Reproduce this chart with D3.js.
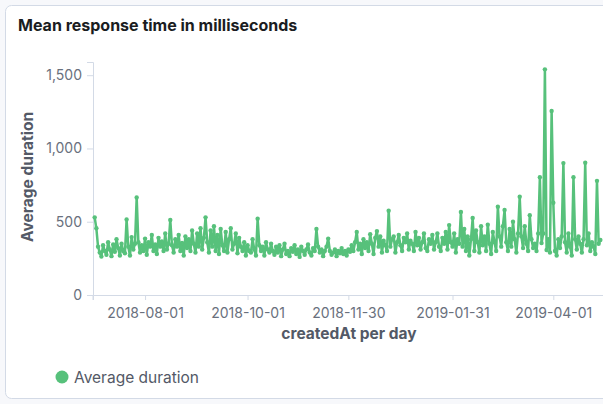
<!DOCTYPE html>
<html>
<head>
<meta charset="utf-8">
<script src="https://cdn.jsdelivr.net/npm/d3@7"></script>
<style>
  html, body { margin: 0; padding: 0; background: #f7f8fb; }
  body { width: 603px; height: 404px; overflow: hidden; font-family: Inter, "Noto Sans", sans-serif; }
  svg { display: block; }
</style>
</head>
<body>
<svg id="chart" width="603" height="404"></svg>
<script>
// Daily mean response time (ms), one value per day starting at firstDay
const firstDay = "2018-07-02";
const avgDuration = [
  530, 455, 330, 290, 262, 340, 300,
  275, 360, 310, 265, 345, 295, 380,
  320, 270, 350, 300, 285, 515, 330,
  270, 395, 310, 350, 665, 360, 290,
  340, 300, 385, 275, 360, 330, 410,
  300, 345, 280, 390, 330, 365, 300,
  420, 310, 350, 512, 340, 290, 380,
  330, 410, 300, 355, 270, 400, 320,
  380, 300, 440, 350, 290, 420, 330,
  455, 310, 390, 530, 360, 290, 440,
  330, 470, 300, 410, 280, 450, 340,
  300, 430, 290, 380, 455, 310, 350,
  420, 285, 390, 330, 300, 360, 270,
  340, 300, 290, 380, 310, 270, 520,
  340, 300, 330, 270, 360, 310, 290,
  350, 300, 275, 330, 290, 340, 265,
  310, 350, 280, 300, 265, 320, 295,
  340, 280, 310, 260, 330, 300, 275,
  310, 345, 290, 270, 320, 300, 450,
  330, 290, 310, 265, 300, 330, 385,
  300, 275, 290, 310, 265, 300, 285,
  320, 280, 300, 270, 310, 295, 340,
  300, 360, 430, 310, 350, 280, 380,
  320, 360, 300, 415, 350, 280, 390,
  436, 330, 400, 290, 370, 340, 300,
  575, 330, 380, 400, 290, 360, 410,
  340, 300, 390, 360, 420, 310, 370,
  350, 300, 430, 340, 390, 310, 360,
  420, 320, 300, 380, 350, 410, 310,
  360, 420, 330, 300, 390, 350, 430,
  310, 477, 360, 330, 420, 290, 380,
  350, 566, 330, 450, 300, 400, 270,
  380, 525, 300, 440, 360, 290, 470,
  340, 400, 300, 480, 350, 280, 430,
  360, 300, 602, 400, 330, 470, 580,
  360, 300, 450, 330, 500, 380, 290,
  420, 670, 400, 320, 470, 350, 300,
  545, 380, 320, 350, 300, 420, 804,
  354, 420, 1540, 307, 380, 290, 1256,
  630, 300, 270, 380, 320, 400, 900,
  360, 290, 420, 330, 270, 804, 380,
  310, 400, 350, 290, 380, 902, 340,
  420, 300, 360, 330, 280, 779, 350,
  375
];
const xTickLabels = ["2018-08-01", "2018-10-01", "2018-11-30", "2019-01-31", "2019-04-01"];
const yTickValues = [0, 500, 1000, 1500];
const xDomain = ["2018-07-01", "2019-05-01"];
const yMax = 1590;

const parse = d3.utcParse("%Y-%m-%d");
const start = parse(firstDay);
const data = avgDuration.map((v, i) => ({ date: d3.utcDay.offset(start, i), value: v }));

const svg = d3.select("#chart");
const green = "#57c17b";
const font = "Inter, 'Noto Sans', sans-serif";

// panel
svg.append("rect")
  .attr("x", 5.5).attr("y", 5.5).attr("width", 620).attr("height", 393)
  .attr("rx", 6).attr("fill", "#fff").attr("stroke", "#d3dae6");

svg.append("text")
  .attr("x", 18).attr("y", 31)
  .attr("font-size", 16).attr("font-weight", 700).attr("fill", "#1a1c21")
  .text("Mean response time in milliseconds");

const x = d3.scaleUtc().domain(xDomain.map(parse)).range([93, 603.7]);
const y = d3.scaleLinear().domain([0, yMax]).range([295, 62]);

// y axis
const yAxis = svg.append("g").attr("transform", "translate(93,0)")
  .call(d3.axisLeft(y).tickValues(yTickValues).tickFormat(d3.format(",")).tickSize(6).tickPadding(5));
// x axis
const xAxis = svg.append("g").attr("transform", "translate(0,295)")
  .call(d3.axisBottom(x).tickValues(xTickLabels.map(parse)).tickFormat(d3.utcFormat("%Y-%m-%d")).tickSize(5).tickPadding(8));

[yAxis, xAxis].forEach(g => {
  g.selectAll(".domain").attr("stroke", "#d3dae6");
  g.selectAll(".tick line").attr("stroke", "#d3dae6");
  g.selectAll(".tick text").attr("fill", "#69707d").attr("font-size", 14)
    .attr("font-family", font);
});
// small tick at the start of the x axis
svg.append("line").attr("x1", 93).attr("x2", 93).attr("y1", 295).attr("y2", 300).attr("stroke", "#d3dae6");

svg.append("text")
  .attr("transform", "translate(33,177) rotate(-90)")
  .attr("text-anchor", "middle")
  .attr("font-size", 15.5).attr("font-weight", 700).attr("fill", "#535966")
  .text("Average duration");

svg.append("text")
  .attr("x", 349).attr("y", 339)
  .attr("text-anchor", "middle")
  .attr("font-size", 15.5).attr("font-weight", 700).attr("fill", "#535966")
  .text("createdAt per day");

// series
const plot = svg.append("g");
plot.append("path")
  .datum(data)
  .attr("fill", "none").attr("stroke", green).attr("stroke-width", 2.5)
  .attr("stroke-linejoin", "round")
  .attr("d", d3.line().x(d => x(d.date)).y(d => y(d.value)));
plot.selectAll("circle").data(data).join("circle")
  .attr("cx", d => x(d.date)).attr("cy", d => y(d.value))
  .attr("r", 2.2).attr("fill", green);

// legend
svg.append("circle").attr("cx", 62).attr("cy", 377).attr("r", 6.5).attr("fill", green);
svg.append("text").attr("x", 74).attr("y", 383)
  .attr("font-size", 15.5).attr("fill", "#535966")
  .text("Average duration");
</script>
</body>
</html>
